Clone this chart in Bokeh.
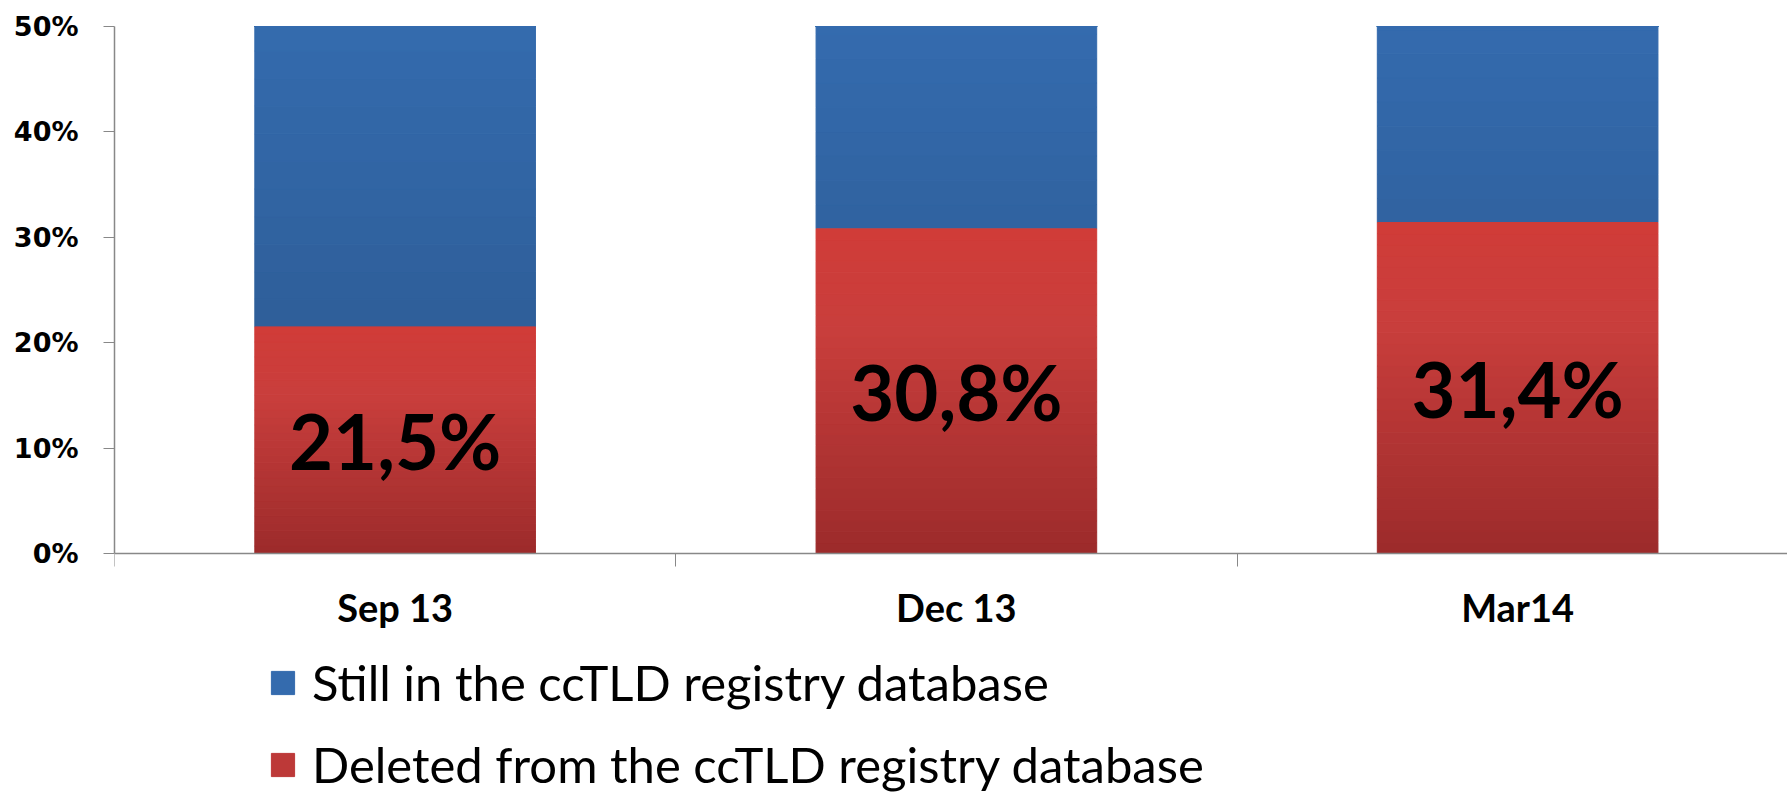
from bokeh.plotting import figure
from bokeh.models import (Range1d, FixedTicker, NumeralTickFormatter, Legend, LegendItem,
                          ColumnDataSource)
from bokeh.core.properties import value
from bokeh.embed import file_html
from bokeh.resources import INLINE

# ---- data ----
categories = ["Sep 13", "Dec 13", "Mar14"]
deleted = [0.215, 0.308, 0.314]
still = [1 - d for d in deleted]
labels = ["21,5%", "30,8%", "31,4%"]
series_names = ["Still in the ccTLD registry database", "Deleted from the ccTLD registry database"]

# ---- helpers ----
def hex2rgb(h):
    h = h.lstrip("#")
    return tuple(int(h[i:i + 2], 16) for i in (0, 2, 4))

def lerp_stops(stops, t):
    t = max(0.0, min(1.0, t))
    for (t0, c0), (t1, c1) in zip(stops, stops[1:]):
        if t0 <= t <= t1:
            f = 0 if t1 == t0 else (t - t0) / (t1 - t0)
            a, b = hex2rgb(c0), hex2rgb(c1)
            return "#%02x%02x%02x" % tuple(int(round(a[i] + (b[i] - a[i]) * f)) for i in range(3))
    return stops[-1][1]

red_stops = [(0.0, "#9c2b2b"), (0.7, "#c93e3c"), (1.0, "#d03c38")]
blue_stops = [(0.0, "#2e5e98"), (1.0, "#346bae")]

N = 30
xs = [i + 0.5 for i in range(len(categories))]
red = dict(x=[], bottom=[], top=[], color=[])
blue = dict(x=[], bottom=[], top=[], color=[])
for x, d, s in zip(xs, deleted, still):
    for k in range(N):
        b = d * k / N
        t = d * (k + 1) / N
        red["x"].append(x); red["bottom"].append(b); red["top"].append(t)
        red["color"].append(lerp_stops(red_stops, (k + 0.5) / N))
    for k in range(N):
        b = d + s * k / N
        t = d + s * (k + 1) / N
        blue["x"].append(x); blue["bottom"].append(b); blue["top"].append(t)
        yc = (b + t) / 2
        blue["color"].append(lerp_stops(blue_stops, (yc - 0.2) / 0.3))

# ---- layout (pixels) ----
W, H = 1787, 793
frame_left = 114
frame_top = 26
zero_px = 553          # pixel row of 0%
cat_px = 561.25        # width of one category
y_top = 0.5
px_per_unit = (zero_px - frame_top) / y_top
y_start = -(H - zero_px) / px_per_unit

p = figure(width=W, height=H, output_backend="svg", toolbar_location=None,
           x_range=Range1d(0, (W - frame_left) / cat_px), y_range=Range1d(y_start, y_top),
           min_border_left=frame_left, min_border_right=0, min_border_top=frame_top,
           min_border_bottom=0)
p.outline_line_color = None
p.xgrid.grid_line_color = None
p.ygrid.grid_line_color = None
p.background_fill_color = "white"
p.border_fill_color = "white"

rb = p.vbar(x="x", bottom="bottom", top="top", width=0.5, fill_color="color",
            line_color="color", line_width=1, source=ColumnDataSource(blue))
rr = p.vbar(x="x", bottom="bottom", top="top", width=0.5, fill_color="color",
            line_color="color", line_width=1, source=ColumnDataSource(red))

p.text(x=xs, y=[d / 2 for d in deleted], text=labels, text_align="center",
       text_baseline="middle", text_font=value("Lato"), text_font_style="bold",
       text_font_size="76px", text_color="black")

# axes
axis_col = "#888888"
xa = p.xaxis[0]
xa.fixed_location = 0
xa.ticker = FixedTicker(ticks=xs, minor_ticks=list(range(len(categories) + 1)))
xa.major_label_overrides = {x: c for x, c in zip(xs, categories)}
xa.major_tick_line_color = None
xa.major_tick_out = 0
xa.major_tick_in = 0
xa.minor_tick_out = 13
xa.minor_tick_in = 0
xa.minor_tick_line_color = axis_col
xa.axis_line_color = axis_col
xa.axis_line_width = 1.5
xa.major_label_text_font = "Lato"
xa.major_label_text_font_style = "bold"
xa.major_label_text_font_size = "38px"
xa.major_label_text_color = "black"
xa.major_label_standoff = 17

ya = p.yaxis[0]
ya.bounds = (0, y_top)
ya.ticker = FixedTicker(ticks=[0, 0.1, 0.2, 0.3, 0.4, 0.5], minor_ticks=[])
ya.formatter = NumeralTickFormatter(format="0%")
ya.major_tick_out = 11
ya.major_tick_in = 0
ya.major_tick_line_color = axis_col
ya.axis_line_color = axis_col
ya.axis_line_width = 1.5
ya.major_label_text_font = "DejaVu Sans"
ya.major_label_text_font_style = "bold"
ya.major_label_text_font_size = "27px"
ya.major_label_text_color = "black"
ya.major_label_standoff = 25

legend = Legend(items=[LegendItem(label=series_names[0], renderers=[rb], index=N - 1),
                       LegendItem(label=series_names[1], renderers=[rr], index=N // 2)],
                location=(154, 0), orientation="vertical",
                glyph_width=29, glyph_height=29, label_standoff=15,
                label_text_font="Lato", label_text_font_size="49px",
                label_text_color="black", spacing=24, padding=0, margin=0,
                border_line_color=None, background_fill_alpha=0)
p.add_layout(legend, "center")

open("out.html", "w").write(file_html(p, INLINE))
